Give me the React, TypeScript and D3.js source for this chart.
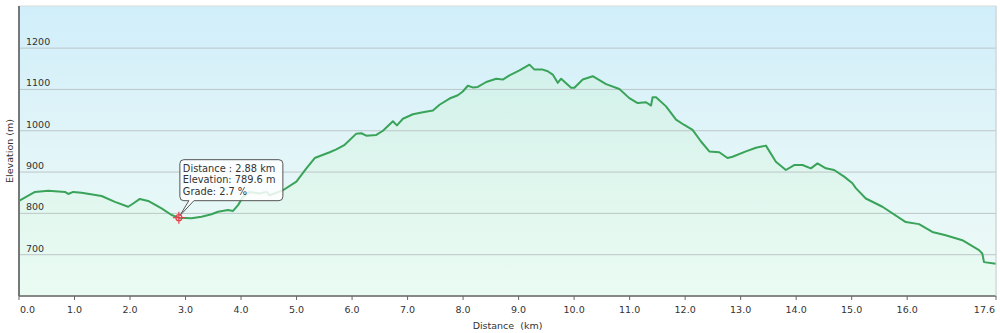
import React from "react";
import * as d3 from "d3";

const distanceKm = [
  0.0, 0.288, 0.527, 0.828, 0.887, 0.977, 1.128, 1.488, 1.728, 1.967, 2.057, 2.177, 2.327, 2.568, 2.748, 2.88,
  3.108, 3.288, 3.468, 3.586, 3.766, 3.856, 3.946, 4.035, 4.155, 4.335, 4.455, 4.515, 4.755, 4.997, 5.177,
  5.327, 5.597, 5.717, 5.867, 6.077, 6.167, 6.257, 6.437, 6.556, 6.736, 6.808, 6.916, 7.096, 7.276, 7.456,
  7.576, 7.756, 7.905, 7.995, 8.085, 8.175, 8.265, 8.417, 8.597, 8.715, 8.836, 9.016, 9.196, 9.286, 9.435,
  9.525, 9.615, 9.705, 9.766, 9.946, 10.005, 10.155, 10.335, 10.576, 10.815, 10.995, 11.145, 11.296, 11.386,
  11.414, 11.476, 11.656, 11.836, 11.985, 12.134, 12.286, 12.435, 12.615, 12.764, 12.854, 13.095, 13.275,
  13.455, 13.635, 13.815, 13.964, 14.114, 14.265, 14.384, 14.535, 14.684, 14.864, 15.014, 15.075, 15.255,
  15.554, 15.975, 16.214, 16.453, 16.694, 16.993, 17.294, 17.353, 17.384, 17.6,
];

const elevationM = [
  830, 852, 855, 852, 847, 852, 850, 842, 828, 816, 824, 835, 830, 812, 796, 789.6,
  788, 792, 798, 804, 808, 806, 820, 840, 852, 848, 852, 844, 856, 877, 909,
  934, 948, 955, 966, 993, 994, 988, 990, 1000, 1023, 1013, 1029, 1040, 1045, 1049,
  1063, 1078, 1086, 1095, 1109, 1105, 1106, 1118, 1126, 1124, 1134, 1146, 1160, 1148, 1148,
  1144, 1136, 1116, 1126, 1104, 1104, 1124, 1132, 1113, 1101, 1079, 1067, 1069, 1061,
  1081, 1081, 1059, 1027, 1014, 1002, 974, 950, 948, 934, 937, 950, 959,
  964, 925, 905, 917, 917, 909, 921, 909, 905, 889, 873, 861, 836,
  816, 779, 774, 755, 747, 735, 711, 703, 682, 678,
];

const xTicks = [0, 1, 2, 3, 4, 5, 6, 7, 8, 9, 10, 11, 12, 13, 14, 15, 16, 17.6];
const yTicks = [700, 800, 900, 1000, 1100, 1200];

const tipDistance = 2.88;
const tipElevation = 789.6;
const tipLines = ["Distance : 2.88 km", "Elevation: 789.6 m", "Grade: 2.7 %"];

export default function App() {
  const W = 1000;
  const H = 333;
  const left = 19;
  const right = 996;
  const top = 6;
  const bottom = 296;

  const x = d3.scaleLinear().domain([0, 17.6]).range([left, right]);
  const y = d3.scaleLinear().domain([600, 1302]).range([bottom, top]);

  const pts: [number, number][] = distanceKm.map((d, i) => [d, elevationM[i]]);
  const line = d3
    .line<[number, number]>()
    .x((d) => x(d[0]))
    .y((d) => y(d[1]));
  const area = d3
    .area<[number, number]>()
    .x((d) => x(d[0]))
    .y0(bottom)
    .y1((d) => y(d[1]));

  const font = "Verdana, 'DejaVu Sans', sans-serif";
  const mx = x(tipDistance);
  const my = y(tipElevation);
  const bx = mx + 1;
  const by = my - 58;
  const bw = 103;
  const bh = 41;

  return (
    <svg
      width={W}
      height={H}
      style={{ position: "absolute", left: 0, top: 0, background: "#fff" }}
      fontFamily={font}
    >
      <defs>
        <linearGradient id="bg" x1="0" y1="0" x2="0" y2="1">
          <stop offset="0" stopColor="#d0eefa" />
          <stop offset="0.5" stopColor="#e2f5f8" />
          <stop offset="1" stopColor="#eefbf6" />
        </linearGradient>
        <linearGradient id="fill" x1="0" y1="0" x2="0" y2="1">
          <stop offset="0" stopColor="#c8f0d0" stopOpacity="0.35" />
          <stop offset="1" stopColor="#e6fbee" stopOpacity="0.45" />
        </linearGradient>
      </defs>
      <rect x={left} y={top} width={right - left} height={bottom - top} fill="url(#bg)" stroke="#d8dcdc" strokeWidth={1} />
      <path d={area(pts) || ""} fill="url(#fill)" />
      {yTicks.map((t) => (
        <g key={t}>
          <line x1={left} x2={right} y1={y(t)} y2={y(t)} stroke="#bcc6c8" strokeWidth={1} />
          <text x={left + 7} y={y(t) - 3} fontSize={9.5} fill="#333">
            {t}
          </text>
        </g>
      ))}
      <path d={line(pts) || ""} fill="none" stroke="#3aa35a" strokeWidth={2} strokeLinejoin="round" />
      <line x1={left} x2={left} y1={top} y2={bottom} stroke="#777" strokeWidth={2} />
      <line x1={left} x2={right} y1={bottom} y2={bottom} stroke="#666" strokeWidth={1.5} />
      <line x1={right} x2={right} y1={top} y2={bottom} stroke="#d0d4d4" strokeWidth={1} />
      {xTicks.map((t, i) => {
        const anchor = i === 0 ? "start" : i === xTicks.length - 1 ? "end" : "middle";
        const tx = i === 0 ? x(t) + 1 : i === xTicks.length - 1 ? x(t) - 1 : x(t);
        return (
          <g key={t}>
            <line x1={x(t)} x2={x(t)} y1={bottom} y2={bottom + 4} stroke="#666" strokeWidth={1} />
            <text x={tx} y={bottom + 17} fontSize={9.5} fill="#333" textAnchor={anchor}>
              {d3.format(".1f")(t)}
            </text>
          </g>
        );
      })}
      <text x={(left + right) / 2} y={329} fontSize={9.5} fill="#333" textAnchor="middle" xmlSpace="preserve">
        Distance  (km)
      </text>
      <text
        transform={`translate(13, ${(top + bottom) / 2}) rotate(-90)`}
        fontSize={9.5}
        fill="#333"
        textAnchor="middle"
      >
        Elevation (m)
      </text>
      {/* tooltip */}
      <path
        d={`M${bx + 4},${by} H${bx + bw - 4} Q${bx + bw},${by} ${bx + bw},${by + 4} V${by + bh - 4} Q${bx + bw},${by + bh} ${bx + bw - 4},${by + bh} H${bx + 14} L${mx + 1},${my - 2} L${bx + 9},${by + bh} H${bx + 4} Q${bx},${by + bh} ${bx},${by + bh - 4} V${by + 4} Q${bx},${by} ${bx + 4},${by}Z`}
        fill="#ffffff"
        fillOpacity={0.85}
        stroke="#555"
        strokeWidth={1}
      />
      {tipLines.map((s, i) => (
        <text key={s} x={bx + 3} y={by + 12 + i * 11.5} fontSize={9.8} fill="#333" xmlSpace="preserve">
          {s}
        </text>
      ))}
      <g stroke="#e8404a" strokeWidth={1.2} fill="none">
        <circle cx={mx} cy={my} r={3} />
        <line x1={mx - 6} x2={mx + 6} y1={my} y2={my} />
        <line x1={mx} x2={mx} y1={my - 6} y2={my + 6} />
      </g>
    </svg>
  );
}
